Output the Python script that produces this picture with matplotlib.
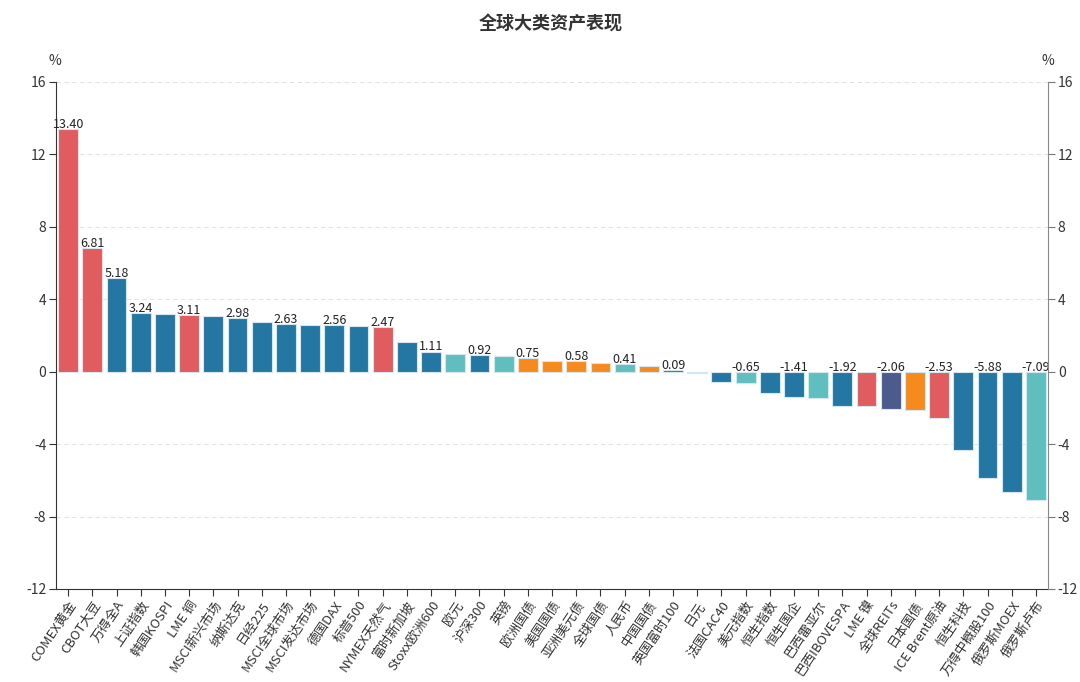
import numpy as np
import matplotlib
matplotlib.use('Agg')
import matplotlib.pyplot as plt

plt.rcParams['font.family'] = ['Noto Sans CJK SC', 'DejaVu Sans']

# Datos
assets = ['COMEX黄金', 'CBOT大豆', '万得全A', '上证指数', '韩国KOSPI', 'LME 铜',
          'MSCI新兴市场', '纳斯达克', '日经225', 'MSCI全球市场', 'MSCI发达市场',
          '德国DAX', '标普500', 'NYMEX天然气', '富时新加坡', 'Stoxx欧洲600', '欧元',
          '沪深300', '英镑', '欧洲国债', '美国国债', '亚洲美元债', '全球国债', '人民币',
          '中国国债', '英国富时100', '日元', '法国CAC40', '美元指数', '恒生指数',
          '恒生国企', '巴西雷亚尔', '巴西IBOVESPA', 'LME 镍', '全球REITs', '日本国债',
          'ICE Brent原油', '恒生科技', '万得中概股100', '俄罗斯MOEX', '俄罗斯卢布']
returns = [13.40, 6.81, 5.18, 3.24, 3.20, 3.11, 3.05, 2.98, 2.72, 2.63, 2.58,
           2.56, 2.50, 2.47, 1.65, 1.11, 0.95, 0.92, 0.88, 0.75, 0.60, 0.58,
           0.50, 0.41, 0.32, 0.09, -0.05, -0.55, -0.65, -1.20, -1.41, -1.47,
           -1.92, -1.90, -2.06, -2.12, -2.53, -4.31, -5.88, -6.66, -7.09]
# Clase de activo: r=materias primas, b=acciones, t=divisas, o=bonos, p=REITs
kinds = ['r', 'r', 'b', 'b', 'b', 'r', 'b', 'b', 'b', 'b', 'b', 'b', 'b', 'r',
         'b', 'b', 't', 'b', 't', 'o', 'o', 'o', 'o', 't', 'o', 'b', 't', 'b',
         't', 'b', 'b', 't', 'b', 'r', 'p', 'o', 'r', 'b', 'b', 'b', 't']
# Etiquetas visibles
shown = [0, 1, 2, 3, 5, 7, 9, 11, 13, 15, 17, 19, 21, 23, 25,
         28, 30, 32, 34, 36, 38, 40]

palette = {'r': '#e05c5e', 'b': '#2477a3', 't': '#5fbfbf',
           'o': '#f78a1d', 'p': '#4d5a8e'}

fig = plt.figure(figsize=(10.8, 6.82), dpi=100)
ax = fig.add_axes([0.0519, 0.1364, 0.9185, 0.7434])

x = np.arange(len(assets))
colors = [palette[k] for k in kinds]
ax.bar(x, returns, width=0.82, color=colors, edgecolor='#d6e6ee',
       linewidth=0.8, zorder=3)

for i in shown:
    v = returns[i]
    ax.text(x[i], max(v, 0) - 0.1, f'{v:.2f}', ha='center', va='bottom',
            fontsize=9, color='#222222', zorder=4)

ax.set_xlim(-0.5, len(assets) - 0.5)
ax.set_ylim(-12, 16)
yt = np.arange(-12, 17, 4)
ax.set_yticks(yt)
ax.set_yticklabels([str(t) for t in yt], fontsize=10, color='#333333')
for t in yt:
    if t not in (0, -12):
        ax.axhline(t, color='#e3e3e3', linestyle=(0, (4, 3)), linewidth=0.8,
                   zorder=0)

ax.set_xticks(x)
ax.set_xticklabels(assets, rotation=56, ha='right', rotation_mode='anchor',
                   fontsize=9.4, color='#333333')
ax.tick_params(axis='x', length=5, color='#333333', pad=2)
ax.tick_params(axis='y', length=5, color='#333333', pad=2)

ax2 = ax.twinx()
ax2.set_ylim(-12, 16)
ax2.set_yticks(yt)
ax2.set_yticklabels([str(t) for t in yt], fontsize=10, color='#333333')
ax2.tick_params(axis='y', length=5, color='#777777', pad=2)

for a in (ax, ax2):
    a.spines['top'].set_visible(False)
ax.spines['left'].set_color('#333333')
ax.spines['bottom'].set_color('#333333')
ax.spines['right'].set_visible(False)
ax2.spines['left'].set_visible(False)
ax2.spines['bottom'].set_visible(False)
ax2.spines['right'].set_color('#888888')

fig.text(0.051, 0.905, '%', fontsize=10, color='#333333', ha='center')
fig.text(0.970, 0.905, '%', fontsize=10, color='#333333', ha='center')
fig.text(0.51, 0.965, '全球大类资产表现', fontsize=13, fontweight='bold',
         color='#333333', ha='center', va='center')

plt.savefig('out.png', dpi=100)
